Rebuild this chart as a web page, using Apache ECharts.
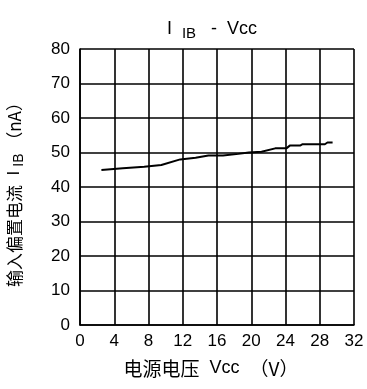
<!DOCTYPE html>
<html><head><meta charset="utf-8">
<script src="https://cdn.jsdelivr.net/npm/echarts@6/dist/echarts.min.js"></script>
<style>html,body{margin:0;padding:0;background:#fff}#c{width:367px;height:389px}</style>
</head><body><div id="c"></div>
<script>
const vcc = [2.5, 5, 7.5, 9.5, 11.7, 13.5, 15, 16.7, 18.5, 19.7, 21.2, 22.8, 24.1, 24.5, 25.7, 26.0, 28.6, 28.9, 29.5];
const iib = [44.9, 45.4, 45.9, 46.4, 48.0, 48.5, 49.1, 49.1, 49.6, 50.0, 50.2, 51.2, 51.2, 52.0, 52.0, 52.4, 52.4, 52.9, 52.9];
const xTicks = [0, 4, 8, 12, 16, 20, 24, 28, 32];
const yTicks = [0, 10, 20, 30, 40, 50, 60, 70, 80];
const font = '"Liberation Sans", Arial, "Noto Sans CJK SC", sans-serif';
const cjk = '"Noto Sans CJK SC", sans-serif';
const chart = echarts.init(document.getElementById('c'), null, {renderer: 'canvas'});
const lineStyle = {color: '#000', width: 1.6};
const sub = {fontFamily: font, fontSize: 14, color: '#000', padding: [9, 0, 0, 4]};
chart.setOption({
  animation: false,
  title: {
    text: 'I{t|IB}   -  Vcc', left: 207, top: 12, textAlign: 'center',
    textStyle: {fontFamily: font, fontSize: 18, fontWeight: 'normal', color: '#000',
      rich: {t: {fontFamily: font, fontSize: 15, color: '#000', padding: [9, 0, 0, 10]}}}
  },
  grid: {left: 80, right: 13, top: 49, bottom: 64, containLabel: false, outerBoundsMode: 'none'},
  xAxis: {
    type: 'value', min: xTicks[0], max: xTicks[xTicks.length - 1], interval: 4,
    name: '{c|电源电压}{v|  Vcc  }{c|（V）}', nameLocation: 'middle', nameGap: 34,
    nameTextStyle: {fontFamily: font, fontSize: 18, color: '#000', padding: [0, 12, 0, 0],
      rich: {c: {fontFamily: cjk, fontSize: 19, color: '#000'},
             v: {fontFamily: font, fontSize: 18, color: '#000'}}},
    axisLine: {show: true, lineStyle: lineStyle},
    axisTick: {show: false},
    axisLabel: {fontFamily: font, fontSize: 17, color: '#000', margin: 8},
    splitLine: {show: true, lineStyle: lineStyle}
  },
  yAxis: {
    type: 'value', min: yTicks[0], max: yTicks[yTicks.length - 1], interval: 10,
    name: '{c|输入偏置电流}{v|  I}{s|IB} {c|（nA）}', nameLocation: 'middle', nameGap: 54, nameRotate: 90,
    nameTextStyle: {fontFamily: font, fontSize: 17, color: '#000', padding: [0, 7, 0, 0],
      rich: {s: sub, c: {fontFamily: cjk, fontSize: 17, color: '#000'},
             v: {fontFamily: font, fontSize: 17, color: '#000'}}},
    axisLine: {show: true, lineStyle: lineStyle},
    axisTick: {show: false},
    axisLabel: {fontFamily: font, fontSize: 17, color: '#000', margin: 10},
    splitLine: {show: true, lineStyle: lineStyle}
  },
  series: [{
    type: 'line', data: vcc.map((v, i) => [v, iib[i]]), showSymbol: false,
    lineStyle: {color: '#000', width: 2}, smooth: false
  }]
});
</script></body></html>
